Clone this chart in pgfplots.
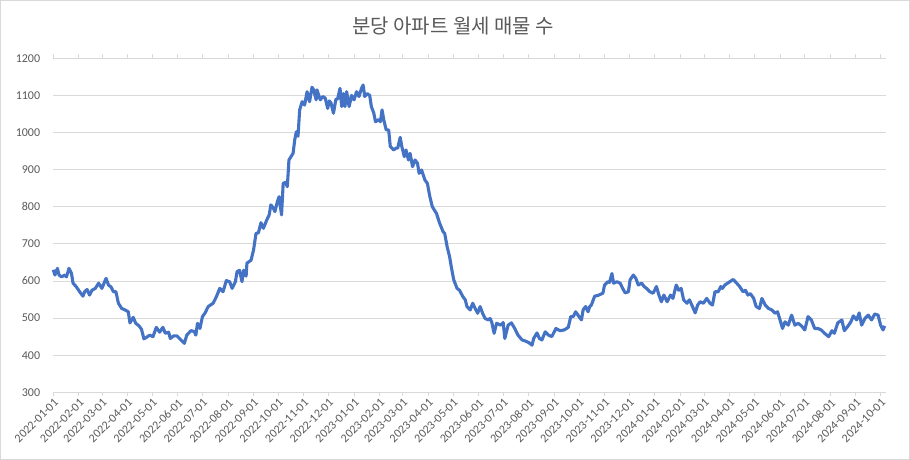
\documentclass[border=0pt]{standalone}
\usepackage{pgfplots}
\pgfplotsset{compat=1.18}
\usepackage{pgfplotstable}
\usepackage{fontspec}
\setmainfont{Carlito}
\newfontfamily\kr{Noto Sans CJK KR}
\definecolor{linec}{HTML}{4472C4}
\definecolor{gridc}{HTML}{D9D9D9}
\definecolor{txtc}{HTML}{595959}
\pgfplotstableread{
d v
0 630
2 616
5 634
7 616
10 611
14 616
16 611
19 634
22 621
24 594
28 584
32 571
36 559
38 571
41 577
44 562
47 575
51 580
55 594
59 580
64 607
67 589
70 584
73 571
76 571
79 540
83 526
87 522
91 517
93 487
97 502
100 486
104 479
107 470
110 444
113 448
117 454
121 450
125 475
129 462
133 475
136 459
140 462
142 445
146 452
150 452
154 443
159 432
162 454
167 466
171 464
173 454
175 486
178 472
181 504
184 513
188 531
194 540
198 558
202 580
206 571
210 601
214 598
217 580
221 598
223 625
226 629
229 598
231 629
234 613
235 648
240 656
243 683
246 728
249 730
252 757
255 742
259 764
262 778
264 805
266 800
269 787
272 814
274 827
277 778
279 863
282 866
284 854
286 926
291 944
293 980
295 1002
297 990
299 1061
302 1083
305 1074
308 1110
311 1083
314 1122
316 1115
319 1088
320 1115
324 1088
327 1097
330 1093
333 1065
335 1085
337 1080
340 1052
343 1090
345 1090
348 1119
350 1070
352 1105
354 1070
356 1110
359 1070
362 1100
365 1088
368 1110
371 1097
374 1119
376 1128
378 1097
381 1105
384 1100
386 1070
389 1052
391 1029
395 1035
397 1029
399 1061
401 1035
404 1007
407 1007
409 962
411 958
413 953
416 958
418 958
421 987
423 962
426 935
428 953
431 926
433 944
436 908
439 926
442 917
444 890
447 899
451 872
454 863
457 827
460 800
465 782
469 755
473 733
475 728
478 692
481 665
483 638
486 603
490 580
493 575
497 558
500 549
502 531
506 522
509 540
512 526
515 513
518 531
521 513
524 499
528 495
530 499
532 490
535 459
538 486
543 481
546 488
548 445
552 481
556 487
560 472
564 454
569 441
572 439
577 434
581 427
583 445
587 460
590 445
593 441
597 463
601 454
605 450
610 472
615 466
620 468
625 475
628 504
631 504
634 517
638 504
641 495
643 522
646 531
649 517
651 531
653 535
657 559
661 561
667 567
669 589
673 598
675 596
678 620
680 594
684 598
688 594
691 580
694 568
698 571
700 603
704 616
707 607
710 589
714 594
717 585
720 580
724 571
728 567
732 585
735 562
738 544
741 562
745 544
749 562
752 553
756 589
759 575
762 580
765 549
769 540
772 549
775 535
779 514
782 535
785 544
789 540
793 553
797 540
800 535
803 571
807 571
810 585
812 580
815 589
819 595
825 604
829 595
833 585
837 571
840 575
843 562
846 566
850 553
853 531
857 526
860 553
864 535
868 526
872 522
876 513
879 517
882 495
885 472
888 490
892 481
896 508
900 481
904 486
908 479
912 468
916 504
920 495
924 472
928 472
932 468
936 459
941 450
945 466
948 459
952 487
957 495
960 466
964 477
968 490
971 506
975 495
978 514
981 481
985 499
989 508
993 495
997 511
1001 508
1004 481
1007 468
1009 479
}\datatable
\begin{document}
\begin{tikzpicture}
\path[use as bounding box] (0bp,0bp) rectangle (910bp,460bp);
\draw[gridc, line width=1bp] (0.5bp,0.5bp) rectangle (909.5bp,459.5bp);
\node[font=\kr\fontsize{20bp}{24bp}\selectfont, text=txtc] at (453bp,433.6bp) {분당 아파트 월세 매물 수};
\begin{axis}[
  at={(53.3bp,67.7bp)}, anchor=south west,
  width=832.7bp, height=334bp, scale only axis,
  xmin=0, xmax=1010.6, ymin=300, ymax=1200,
  ytick={300,400,...,1200},
  ymajorgrids, major grid style={gridc, line width=0.75bp},
  axis line style={draw=none},
  ytick style={draw=none},
  xtick style={gridc, line width=0.75bp},
  major tick length=4bp, tick align=outside,
  /pgf/number format/assume math mode=true,
  /pgf/number format/1000 sep={},
  ticklabel style={font=\fontsize{12bp}{14bp}\selectfont, text=txtc},
  yticklabel style={anchor=east, inner sep=0pt, xshift=-9bp},
  xtick={0,31,59,90,120,151,181,212,243,273,304,334,365,396,424,455,485,516,546,577,608,638,669,699,730,761,790,821,851,882,912,943,974,1004},
  xticklabels={2022-01-01,2022-02-01,2022-03-01,2022-04-01,2022-05-01,2022-06-01,2022-07-01,2022-08-01,2022-09-01,2022-10-01,2022-11-01,2022-12-01,2023-01-01,2023-02-01,2023-03-01,2023-04-01,2023-05-01,2023-06-01,2023-07-01,2023-08-01,2023-09-01,2023-10-01,2023-11-01,2023-12-01,2024-01-01,2024-02-01,2024-03-01,2024-04-01,2024-05-01,2024-06-01,2024-07-01,2024-08-01,2024-09-01,2024-10-01},
  xticklabel style={rotate=45, anchor=north east, inner sep=1bp},
  clip=false,
]
\addplot[linec, line width=3.1bp, line join=round, mark=none] table[x=d, y=v] {\datatable};
\end{axis}
\end{tikzpicture}
\end{document}
